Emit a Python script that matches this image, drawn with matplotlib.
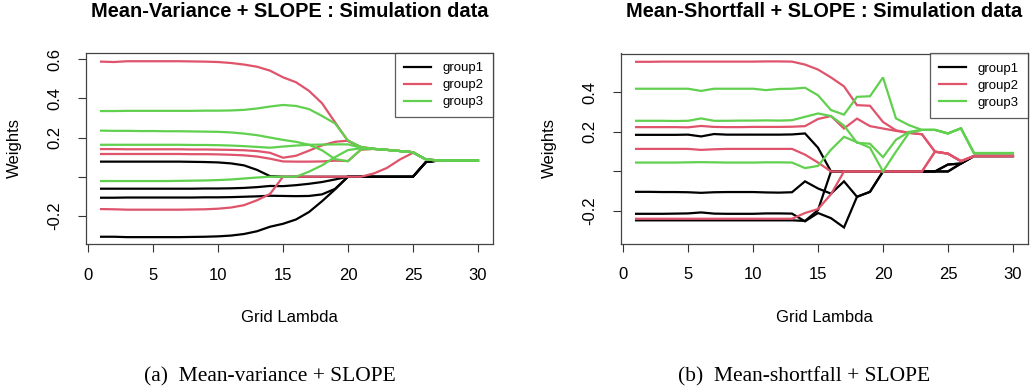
import numpy as np
import matplotlib.pyplot as plt

plt.rcParams['font.family'] = ['Liberation Sans', 'DejaVu Sans']

grid = np.arange(1, 31)

# ---- (a) Mean-variance + SLOPE ----
mv_group1 = [
    [0.077, 0.077, 0.077, 0.077, 0.077, 0.077, 0.077, 0.076, 0.075, 0.073,
     0.068, 0.058, 0.035, 0.003, 0, 0, 0, 0, 0, 0,
     0, 0, 0, 0, 0, 0.075, 0.083, 0.083, 0.083, 0.083],
    [-0.061, -0.061, -0.061, -0.061, -0.061, -0.061, -0.061, -0.061, -0.060, -0.060,
     -0.059, -0.057, -0.053, -0.047, -0.048, -0.043, -0.036, -0.027, -0.014, 0,
     0, 0, 0, 0, 0, 0.075, 0.083, 0.083, 0.083, 0.083],
    [-0.107, -0.107, -0.106, -0.106, -0.106, -0.106, -0.106, -0.106, -0.105, -0.105,
     -0.104, -0.102, -0.100, -0.097, -0.098, -0.099, -0.098, -0.090, -0.062, 0,
     0, 0, 0, 0, 0, 0.075, 0.083, 0.083, 0.083, 0.083],
    [-0.306, -0.306, -0.308, -0.308, -0.308, -0.308, -0.308, -0.307, -0.306, -0.304,
     -0.300, -0.292, -0.278, -0.255, -0.240, -0.218, -0.180, -0.125, -0.065, 0,
     0, 0, 0, 0, 0, 0.075, 0.083, 0.083, 0.083, 0.083],
]
mv_group2 = [
    [0.587, 0.585, 0.589, 0.589, 0.589, 0.589, 0.589, 0.588, 0.587, 0.585,
     0.580, 0.572, 0.561, 0.541, 0.507, 0.482, 0.438, 0.375, 0.278, 0.182,
     0.152, 0.142, 0.137, 0.131, 0.125, 0.088, 0.083, 0.083, 0.083, 0.083],
    [0.141, 0.141, 0.140, 0.140, 0.140, 0.140, 0.140, 0.139, 0.139, 0.138,
     0.137, 0.135, 0.131, 0.122, 0.097, 0.107, 0.133, 0.160, 0.178, 0.184,
     0.148, 0.142, 0.137, 0.131, 0.125, 0.088, 0.083, 0.083, 0.083, 0.083],
    [0.116, 0.116, 0.116, 0.116, 0.116, 0.116, 0.116, 0.115, 0.115, 0.114,
     0.112, 0.109, 0.103, 0.092, 0.078, 0.077, 0.077, 0.078, 0.082, 0.080,
     0.138, 0.142, 0.137, 0.131, 0.125, 0.088, 0.083, 0.083, 0.083, 0.083],
    [-0.165, -0.166, -0.168, -0.168, -0.168, -0.168, -0.168, -0.167, -0.166, -0.163,
     -0.157, -0.145, -0.120, -0.088, 0, 0, 0, 0, 0, 0,
     0, 0.017, 0.045, 0.088, 0.122, 0.088, 0.083, 0.083, 0.083, 0.083],
]
mv_group3 = [
    [0.335, 0.335, 0.336, 0.336, 0.336, 0.336, 0.336, 0.336, 0.337, 0.337,
     0.338, 0.341, 0.348, 0.358, 0.366, 0.361, 0.345, 0.310, 0.272, 0.185,
     0.152, 0.142, 0.137, 0.131, 0.125, 0.088, 0.083, 0.083, 0.083, 0.083],
    [0.235, 0.234, 0.234, 0.233, 0.233, 0.232, 0.232, 0.231, 0.230, 0.229,
     0.226, 0.220, 0.212, 0.200, 0.188, 0.178, 0.163, 0.135, 0.090, 0.079,
     0.140, 0.142, 0.137, 0.131, 0.125, 0.088, 0.083, 0.083, 0.083, 0.083],
    [0.163, 0.163, 0.163, 0.163, 0.163, 0.163, 0.163, 0.162, 0.162, 0.161,
     0.159, 0.156, 0.152, 0.148, 0.154, 0.159, 0.163, 0.164, 0.165, 0.165,
     0.148, 0.142, 0.137, 0.131, 0.125, 0.088, 0.083, 0.083, 0.083, 0.083],
    [-0.022, -0.022, -0.022, -0.022, -0.022, -0.022, -0.021, -0.020, -0.019, -0.017,
     -0.014, -0.009, -0.004, 0, 0, 0, 0.026, 0.058, 0.100, 0.136,
     0.145, 0.142, 0.137, 0.131, 0.125, 0.088, 0.083, 0.083, 0.083, 0.083],
]

# ---- (b) Mean-shortfall + SLOPE ----
ms_group1 = [
    [0.185, 0.185, 0.185, 0.185, 0.186, 0.177, 0.189, 0.186, 0.186, 0.186,
     0.186, 0.186, 0.187, 0.192, 0.120, 0, 0, 0, 0, 0,
     0, 0, 0, 0, 0.035, 0.040, 0.078, 0.078, 0.078, 0.078],
    [-0.103, -0.103, -0.104, -0.104, -0.105, -0.108, -0.105, -0.104, -0.104, -0.104,
     -0.106, -0.107, -0.105, -0.050, -0.086, -0.112, -0.050, -0.128, -0.103, 0,
     0, 0, 0, 0, 0, 0.040, 0.078, 0.078, 0.078, 0.078],
    [-0.214, -0.214, -0.214, -0.213, -0.212, -0.207, -0.213, -0.214, -0.214, -0.214,
     -0.212, -0.212, -0.213, -0.252, -0.210, -0.236, -0.283, -0.128, -0.103, 0,
     0, 0, 0, 0, 0.035, 0.040, 0.078, 0.078, 0.078, 0.078],
    [-0.247, -0.247, -0.247, -0.247, -0.247, -0.247, -0.247, -0.247, -0.247, -0.247,
     -0.247, -0.247, -0.247, -0.250, -0.195, 0, 0, 0, 0, 0,
     0, 0, 0, 0, 0, 0.040, 0.078, 0.078, 0.078, 0.078],
]
ms_group2 = [
    [0.554, 0.554, 0.555, 0.555, 0.555, 0.555, 0.555, 0.555, 0.555, 0.555,
     0.556, 0.556, 0.555, 0.540, 0.515, 0.475, 0.430, 0.335, 0.332, 0.250,
     0.208, 0.195, 0.188, 0.100, 0.090, 0.052, 0.078, 0.078, 0.078, 0.078],
    [0.224, 0.224, 0.224, 0.224, 0.223, 0.230, 0.225, 0.224, 0.224, 0.225,
     0.225, 0.225, 0.226, 0.229, 0.265, 0.280, 0.217, 0.267, 0.229, 0.217,
     0.205, 0.195, 0.188, 0.100, 0.090, 0.052, 0.078, 0.078, 0.078, 0.078],
    [0.114, 0.114, 0.114, 0.114, 0.114, 0.109, 0.112, 0.114, 0.114, 0.114,
     0.114, 0.114, 0.114, 0.085, 0.045, 0, 0, 0, 0, 0,
     0, 0, 0, 0.100, 0.090, 0.052, 0.078, 0.078, 0.078, 0.078],
    [-0.239, -0.239, -0.239, -0.239, -0.239, -0.239, -0.239, -0.239, -0.239, -0.239,
     -0.239, -0.239, -0.239, -0.210, -0.190, -0.115, 0, 0, 0, 0,
     0, 0, 0, 0.100, 0.090, 0.052, 0.078, 0.078, 0.078, 0.078],
]
ms_group3 = [
    [0.418, 0.418, 0.418, 0.418, 0.418, 0.407, 0.418, 0.418, 0.418, 0.418,
     0.411, 0.417, 0.418, 0.423, 0.385, 0.310, 0.287, 0.377, 0.380, 0.475,
     0.268, 0.234, 0.210, 0.210, 0.192, 0.218, 0.093, 0.093, 0.093, 0.093],
    [0.256, 0.256, 0.256, 0.255, 0.256, 0.268, 0.256, 0.256, 0.257, 0.257,
     0.258, 0.257, 0.259, 0.276, 0.293, 0.280, 0.232, 0.145, 0.140, 0.072,
     0.160, 0.200, 0.210, 0.210, 0.192, 0.218, 0.093, 0.093, 0.093, 0.093],
    [0.045, 0.045, 0.045, 0.045, 0.046, 0.047, 0.046, 0.045, 0.045, 0.045,
     0.046, 0.046, 0.045, 0.017, 0.028, 0.110, 0.175, 0.148, 0.120, 0,
     0.100, 0.195, 0.210, 0.210, 0.192, 0.218, 0.093, 0.093, 0.093, 0.093],
]

col_black = 'black'
col_red = '#DF536B'
col_green = '#61D04F'


def draw_panel(ax, groups, title, ylim, yticks, yticklabels):
    for lines, c in zip(groups, [col_black, col_red, col_green]):
        for w in lines:
            ax.plot(grid, w, color=c, lw=1.6, solid_joinstyle='miter')
    ax.set_xlim(-0.16, 31.16)
    ax.set_ylim(*ylim)
    ax.set_xticks([0, 5, 10, 15, 20, 25, 30])
    ax.set_yticks(yticks)
    ax.set_yticklabels(yticklabels, rotation=90, va='center')
    ax.tick_params(direction='out', length=6, width=0.8, color='#333333',
                   labelsize=12, pad=11)
    for s in ax.spines.values():
        s.set_color('#444444')
        s.set_linewidth(0.9)
    ax.set_title(title, fontsize=14.4, fontweight='bold', pad=26)
    ax.set_xlabel('Grid Lambda', fontsize=12, labelpad=20)
    ax.set_ylabel('Weights', fontsize=12, labelpad=18)
    handles = [plt.Line2D([], [], color=c, lw=1.6) for c in [col_black, col_red, col_green]]
    leg = ax.legend(handles, ['group1', 'group2', 'group3'], loc='upper right',
                    fontsize=9.5, frameon=True, fancybox=False, borderaxespad=0,
                    handlelength=2.0, handletextpad=0.9, labelspacing=0.35,
                    borderpad=0.7)
    leg.get_frame().set_edgecolor('#333333')
    leg.get_frame().set_linewidth(0.9)


fig = plt.figure(figsize=(10.30, 3.91), dpi=100)
ax1 = fig.add_axes([86 / 1030, 1 - 244 / 391, 407 / 1030, 191 / 391])
ax2 = fig.add_axes([621 / 1030, 1 - 243.5 / 391, 407 / 1030, 190 / 391])

draw_panel(ax1, [mv_group1, mv_group2, mv_group3],
           'Mean-Variance + SLOPE : Simulation data', (-0.343, 0.631),
           [-0.2, 0.0, 0.2, 0.4, 0.6], ['-0.2', '', '0.2', '0.4', '0.6'])
draw_panel(ax2, [ms_group1, ms_group2, ms_group3],
           'Mean-Shortfall + SLOPE : Simulation data', (-0.364, 0.596),
           [-0.2, 0.0, 0.2, 0.4], ['-0.2', '', '0.2', '0.4'])

fig.text(270 / 1030, 1 - 377 / 391, '(a)\u2002Mean-variance + SLOPE',
         family='Liberation Serif', fontsize=15.5, ha='center', va='center')
fig.text(804 / 1030, 1 - 377 / 391, '(b)\u2002Mean-shortfall + SLOPE',
         family='Liberation Serif', fontsize=15.5, ha='center', va='center')

fig.savefig('out.png', dpi=100)
